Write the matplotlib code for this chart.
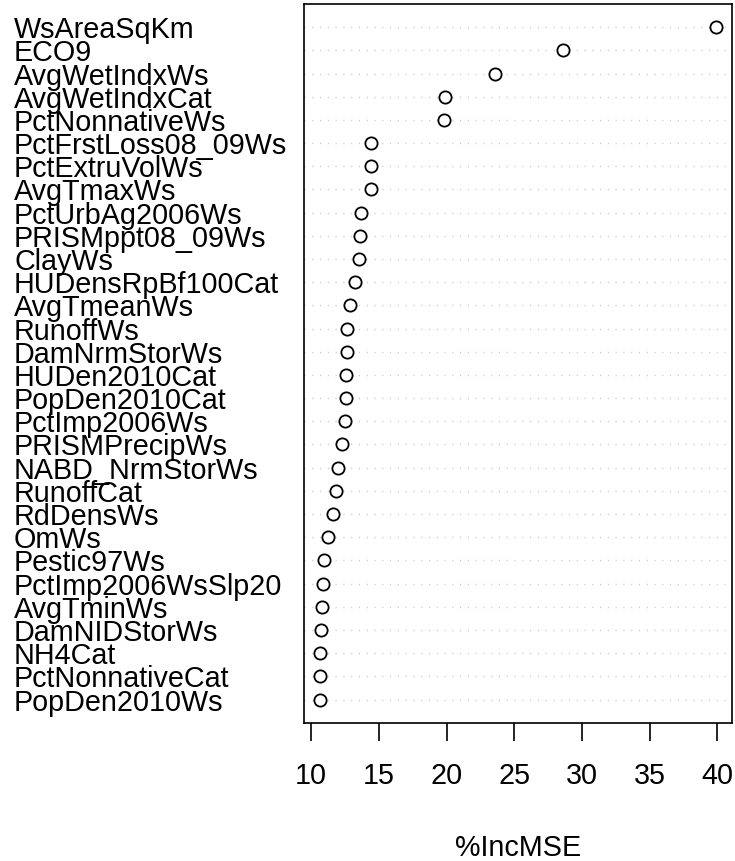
import matplotlib
matplotlib.use("Agg")
import matplotlib.pyplot as plt
import matplotlib.transforms as mtransforms
import numpy as np

# variable importance (%IncMSE), top to bottom as shown
features = [
    "WsAreaSqKm", "ECO9", "AvgWetIndxWs", "AvgWetIndxCat", "PctNonnativeWs",
    "PctFrstLoss08_09Ws", "PctExtruVolWs", "AvgTmaxWs", "PctUrbAg2006Ws",
    "PRISMppt08_09Ws", "ClayWs", "HUDensRpBf100Cat", "AvgTmeanWs", "RunoffWs",
    "DamNrmStorWs", "HUDen2010Cat", "PopDen2010Cat", "PctImp2006Ws",
    "PRISMPrecipWs", "NABD_NrmStorWs", "RunoffCat", "RdDensWs", "OmWs",
    "Pestic97Ws", "PctImp2006WsSlp20", "AvgTminWs", "DamNIDStorWs", "NH4Cat",
    "PctNonnativeCat", "PopDen2010Ws",
]
inc_mse = [
    39.9, 28.6, 23.6, 19.9, 19.85,
    14.4, 14.4, 14.4, 13.65,
    13.62, 13.57, 13.25, 12.9, 12.66,
    12.64, 12.59, 12.54, 12.49,
    12.31, 11.95, 11.85, 11.62, 11.25,
    10.94, 10.86, 10.79, 10.71, 10.64,
    10.64, 10.64,
]
xticks = [10, 15, 20, 25, 30, 35, 40]

plt.rcParams['font.family'] = ['Liberation Sans', 'DejaVu Sans']

n = len(features)
ypos = np.arange(n, 0, -1)

fig = plt.figure(figsize=(7.35, 8.61), dpi=100)
ax = fig.add_axes([0.4136, 0.1606, 0.9955 - 0.4136, 0.9954 - 0.1606])

for y in ypos:
    ax.axhline(y, color='#c8c8c8', lw=1.0, linestyle=(0, (0.8, 4.8)), zorder=1)
ax.plot(inc_mse, ypos, 'o', ms=8.8, mfc='white', mec='black', mew=1.3,
        linestyle='none', zorder=3)

lo, hi = min(inc_mse), max(inc_mse)
pad = 0.04 * (hi - lo)
ax.set_xlim(lo - pad, hi + pad)
ax.set_ylim(0, n + 1)

ax.set_yticks([])
ax.set_xticks(xticks)
ax.tick_params(axis='x', length=13, width=1.2, pad=15, labelsize=20.7)
for s in ax.spines.values():
    s.set_linewidth(1.2)

trans = mtransforms.blended_transform_factory(fig.transFigure, ax.transData)
for name, y in zip(features, ypos):
    ax.text(14 / 735, y, name, transform=trans, ha='left',
            va='center_baseline', fontsize=20.7, clip_on=False)

fig.text(0.5 * (0.4136 + 0.9955), 1 - 848 / 861, "%IncMSE", ha='center',
         va='center', fontsize=20.7)

fig.savefig("out.png", dpi=100)
